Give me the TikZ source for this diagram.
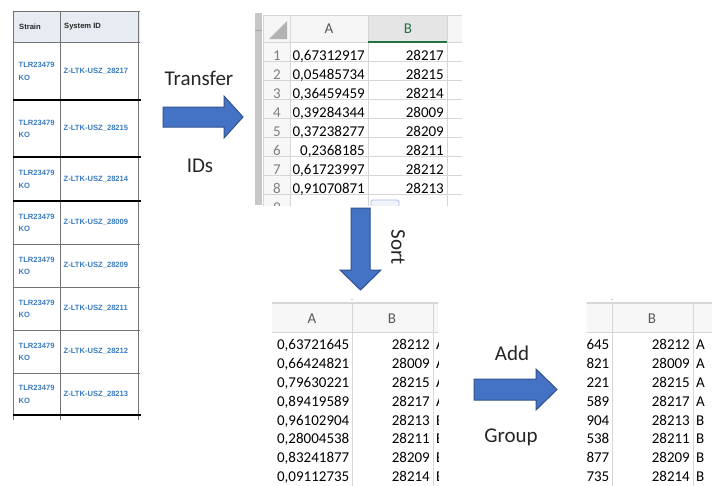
\documentclass[tikz,border=0pt]{standalone}
\usepackage{fontspec}
\setmainfont{Carlito}
\newfontfamily\tabfont{Liberation Sans}
\definecolor{arrfill}{HTML}{4472C4}
\definecolor{arrline}{HTML}{2F528F}
\definecolor{linkblue}{HTML}{3B7CC0}
\definecolor{hdrbg}{HTML}{E6ECF1}
\definecolor{xlgreen}{HTML}{217346}
\definecolor{gridc}{HTML}{D6D6D6}
\definecolor{numgray}{HTML}{7F7F7F}
\tikzset{
  blockarrow/.style={fill=arrfill, draw=arrline, line width=1pt, line join=miter},
  lbl/.style={font=\fontsize{21}{24}\selectfont, inner sep=0pt, text=black!85},
  cellnum/.style={font=\fontsize{15}{18}\selectfont, inner sep=0pt, anchor=base east},
  cellgrp/.style={font=\fontsize{15}{18}\selectfont, inner sep=0pt, anchor=base west},
  rownum/.style={font=\fontsize{15}{18}\selectfont, inner sep=0pt, anchor=base, text=numgray},
  hdrtxt/.style={font=\fontsize{15}{18}\selectfont, inner sep=0pt, text=black!65},
  tabthin/.style={draw=black!55, line width=0.6pt},
  tabthick/.style={draw=black, line width=2pt},
  tabhead/.style={font=\tabfont\bfseries\fontsize{7.6}{9}\selectfont, inner sep=0pt, anchor=west, text=black!85},
  tabcell/.style={font=\tabfont\bfseries\fontsize{7.6}{12.5}\selectfont, inner sep=0pt, anchor=west, text=linkblue, align=left},
}
\newcommand{\sortedsheet}[1]{%
  \fill[black!3] (200,303) rectangle (480,332);
  \draw[gridc, line width=1.6pt] (200,303) -- (480,303);
  \draw[gridc, line width=1pt] (200,332) -- (480,332);
  \draw[gridc] (352,303) -- (352,490);
  \draw[gridc] (433,303) -- (433,490);
  \fill[black!40] (352,299.5) circle (0.7);
  \node[hdrtxt] (#1ha) at (312,318.5) {A};
  \node[hdrtxt] (#1hb) at (392,318.5) {B};
  \foreach \va/\vb/\vg [count=\k] in {0{,}63721645/28212/A, 0{,}66424821/28009/A, 0{,}79630221/28215/A, 0{,}89419589/28217/A, 0{,}96102904/28213/B, 0{,}28004538/28211/B, 0{,}83241877/28209/B, 0{,}09112735/28214/B}{
    \node[cellnum] (#1a\k) at (349.5,332+18.9*\k-1.5) {\va};
    \node[cellnum] (#1b\k) at (430,332+18.9*\k-1.5) {\vb};
    \node[cellgrp] (#1g\k) at (436,332+18.9*\k-1.5) {\vg};
  }%
}
\begin{document}
\begin{tikzpicture}[x=1pt,y=-1pt]
\useasboundingbox[fill=white] (0,0) rectangle (712,485);

% ---------------- left table ----------------
\fill[hdrbg] (13,11) rectangle (140,42);
\draw[tabthin] (13,11) -- (140,11);
\draw[tabthin] (13,42) -- (140,42);
\foreach \xx in {13,60,138} \draw[tabthin] (\xx,11) -- (\xx,420);
\foreach \yy in {244,287,330,373} \draw[tabthin] (13,\yy) -- (140,\yy);
\foreach \yy in {100,157,201,415} \draw[tabthick] (13,\yy) -- (141,\yy);
\node[tabhead] (hstrain) at (19,27) {Strain};
\node[tabhead] (hsysid) at (64,27) {System ID};
\foreach \tt/\bb/\id in {42/100/28217, 100/157/28215, 157/201/28214, 201/244/28009, 244/287/28209, 287/330/28211, 330/373/28212, 373/415/28213}{
  \node[tabcell] (st\id) at (18.5,{(\tt+\bb)/2+0.5}) {TLR23479\\KO};
  \node[tabcell] (id\id) at (63.5,{(\tt+\bb)/2}) {Z-LTK-USZ\_\id};
}

% ---------------- sheet 1 ----------------
\fill[black!22] (255,13) rectangle (262,205);
\draw[black!35] (255,30) -- (262,30);
\begin{scope}
  \clip (262,12) rectangle (462,205);
  \fill[black!4] (263,15) rectangle (462,42);
  \fill[black!10] (368,15) rectangle (447,42);
  \fill[black!3] (263,42) rectangle (290,210);
  \fill[black!30] (287,21) -- (287,39) -- (269,39) -- cycle;
  \draw[gridc] (263,15) -- (462,15);
  \foreach \kk in {0,...,8} \draw[gridc] (263,42+19*\kk) -- (462,42+19*\kk);
  \foreach \xx in {263,290,368,447} \draw[gridc] (\xx,15) -- (\xx,210);
  \draw[xlgreen, line width=2pt] (368,42) -- (447,42);
  \node[hdrtxt] (s1ha) at (329,29) {A};
  \node[hdrtxt, text=xlgreen] (s1hb) at (408,29) {B};
  \foreach \va/\vb [count=\k] in {0{,}67312917/28217, 0{,}05485734/28215, 0{,}36459459/28214, 0{,}39284344/28009, 0{,}37238277/28209, 0{,}2368185/28211, 0{,}61723997/28212, 0{,}91070871/28213}{
    \node[rownum] (s1r\k) at (277,42+19*\k-0.75) {\k};
    \node[cellnum] (s1a\k) at (365,42+19*\k-0.75) {\va};
    \node[cellnum] (s1b\k) at (444,42+19*\k-0.75) {\vb};
  }
  \node[rownum] (s1r9) at (277,42+19*9-0.75) {9};
  \draw[draw=arrfill!45, fill=arrfill!8, line width=0.8pt, rounded corners=1.5pt] (371,200) rectangle (399,210);
\end{scope}

% ---------------- sheet 2 (sorted) ----------------
\begin{scope}
  \clip (272,295) rectangle (438,485);
  \sortedsheet{t}
\end{scope}

% ---------------- sheet 3 (grouped) ----------------
\begin{scope}[xshift=260pt]
  \clip (326.5,295) rectangle (452,485);
  \sortedsheet{g}
\end{scope}

% ---------------- arrows ----------------
\draw[blockarrow] (163,107) -- (224,107) -- (224,96) -- (243,117) -- (224,138) -- (224,127) -- (163,127) -- cycle;
\draw[blockarrow] (351,208) -- (370,208) -- (370,270) -- (381,270) -- (360.5,290) -- (340,270) -- (351,270) -- cycle;
\draw[blockarrow] (474,379) -- (536,379) -- (536,369) -- (557,389.5) -- (536,410) -- (536,400) -- (474,400) -- cycle;

\node[lbl] (ltransfer) at (199,78) {Transfer};
\node[lbl] (lids) at (200,166) {IDs};
\node[lbl, rotate=-90] (lsort) at (398,247) {Sort};
\node[lbl] (ladd) at (512,353) {Add};
\node[lbl] (lgroup) at (511,437) {Group};
\end{tikzpicture}
\end{document}
